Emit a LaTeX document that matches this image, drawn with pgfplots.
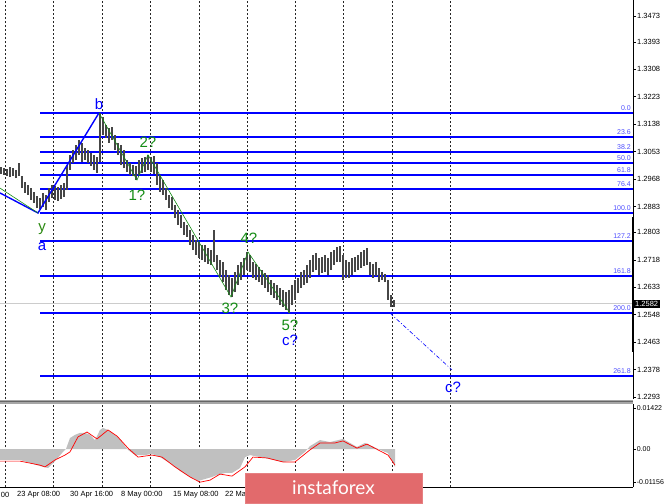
\documentclass[border=0pt]{standalone}
\usepackage{pgfplots}
\pgfplotsset{compat=1.18}
\usepackage{pgfplotstable}
\usepackage{fontspec}
\setmainfont{Liberation Sans}
\newfontfamily\logofont{Lato}
\definecolor{fibblue}{RGB}{0,0,255}
\definecolor{fibtext}{RGB}{80,80,255}
\definecolor{wavegreen}{RGB}{20,140,20}
\definecolor{barcol}{RGB}{70,70,70}
\definecolor{histgray}{RGB}{192,192,192}
\definecolor{logored}{RGB}{226,106,108}

\pgfplotstableread{
x lo hi
1 1.2984 1.3005
4 1.2981 1.3002
7 1.2978 1.2999
10 1.2974 1.3005
13 1.2978 1.3002
16 1.2971 1.2996
19 1.2978 1.3018
22 1.2940 1.2978
25 1.2925 1.2959
28 1.2919 1.2950
31 1.2903 1.2940
34 1.2894 1.2928
37 1.2878 1.2916
40 1.2875 1.2909
43 1.2882 1.2925
46 1.2872 1.2919
49 1.2897 1.2940
52 1.2909 1.2950
55 1.2903 1.2947
58 1.2900 1.2943
61 1.2906 1.2950
64 1.2912 1.2956
67 1.2934 1.3012
70 1.2996 1.3043
73 1.3018 1.3058
76 1.3027 1.3074
79 1.3043 1.3089
82 1.3021 1.3080
85 1.3027 1.3064
88 1.3018 1.3058
91 1.3008 1.3049
94 1.2996 1.3043
97 1.2987 1.3036
100 1.3021 1.3173
103 1.3105 1.3160
106 1.3095 1.3135
109 1.3080 1.3126
112 1.3089 1.3129
115 1.3058 1.3105
118 1.3043 1.3080
121 1.3012 1.3074
124 1.3002 1.3058
127 1.2990 1.3027
130 1.2981 1.3018
133 1.2978 1.3012
136 1.2965 1.3008
139 1.2981 1.3027
142 1.2987 1.3033
145 1.2990 1.3036
148 1.2996 1.3043
151 1.2990 1.3036
154 1.2984 1.3039
157 1.2950 1.3018
160 1.2928 1.2981
163 1.2919 1.2965
166 1.2903 1.2940
169 1.2878 1.2919
172 1.2872 1.2912
175 1.2847 1.2888
178 1.2826 1.2872
181 1.2817 1.2857
184 1.2795 1.2835
187 1.2789 1.2826
190 1.2764 1.2810
193 1.2748 1.2795
196 1.2733 1.2779
199 1.2724 1.2773
202 1.2717 1.2764
205 1.2711 1.2764
208 1.2705 1.2755
211 1.2702 1.2748
214 1.2711 1.2810
217 1.2686 1.2733
220 1.2665 1.2717
223 1.2649 1.2711
226 1.2624 1.2686
229 1.2609 1.2671
232 1.2603 1.2662
235 1.2618 1.2680
238 1.2640 1.2702
241 1.2655 1.2711
244 1.2671 1.2724
247 1.2686 1.2742
250 1.2680 1.2733
253 1.2662 1.2711
256 1.2655 1.2705
259 1.2649 1.2696
262 1.2640 1.2686
265 1.2631 1.2677
268 1.2618 1.2671
271 1.2609 1.2655
274 1.2600 1.2646
277 1.2594 1.2640
280 1.2578 1.2631
283 1.2572 1.2624
286 1.2563 1.2618
289 1.2553 1.2624
292 1.2578 1.2640
295 1.2594 1.2655
298 1.2615 1.2662
301 1.2631 1.2680
304 1.2640 1.2686
307 1.2646 1.2702
310 1.2662 1.2717
313 1.2680 1.2733
316 1.2686 1.2739
319 1.2671 1.2724
322 1.2677 1.2727
325 1.2680 1.2733
328 1.2671 1.2724
331 1.2686 1.2742
334 1.2702 1.2748
337 1.2711 1.2758
340 1.2711 1.2761
343 1.2655 1.2733
346 1.2662 1.2717
349 1.2662 1.2711
352 1.2671 1.2724
355 1.2680 1.2727
358 1.2686 1.2733
361 1.2693 1.2742
364 1.2699 1.2748
367 1.2702 1.2755
370 1.2671 1.2711
373 1.2662 1.2705
376 1.2668 1.2711
379 1.2649 1.2693
382 1.2655 1.2680
385 1.2649 1.2674
388 1.2594 1.2655
391 1.2572 1.2609
394 1.2572 1.2594
}\bars

\begin{document}
\begin{tikzpicture}[font=\fontsize{7.5}{8}\selectfont]
\useasboundingbox (0pt,0pt) rectangle (665pt,-504pt);
\fill[white] (0pt,0pt) rectangle (665pt,-504pt);
% ---------------- main price panel ----------------
\begin{axis}[
  at={(0pt,0pt)}, anchor=north west, scale only axis,
  width=633pt, height=399pt,
  xmin=0, xmax=633, ymin=1.22869, ymax=1.35226,
  clip=false,
  axis x line=none, axis y line*=right,
  y axis line style={-, line width=0.6pt},
  ytick={1.2293,1.2378,1.2463,1.2548,1.2633,1.2718,1.2803,1.2883,1.2968,1.3053,1.3138,1.3223,1.3308,1.3393,1.3473},
  yticklabels={1.2293,1.2378,1.2463,1.2548,1.2633,1.2718,1.2803,1.2883,1.2968,1.3053,1.3138,1.3223,1.3308,1.3393,1.3473},
  scaled y ticks=false,
  tick align=outside, major tick length=3pt,
  ytick style={black, line width=0.5pt},
  yticklabel style={font=\fontsize{7.5}{8}\selectfont, inner sep=1pt},
  /pgf/number format/assume math mode=true,
]
\pgfplotsinvokeforeach{5,53,102,150,199,247,295,343,392,450}{
  \draw[black!85, line width=0.5pt, dash pattern=on 2pt off 2pt] (axis cs:#1,1.22869) -- (axis cs:#1,1.35226);
}
% current price line
\addplot[black!20, line width=0.8pt, forget plot] coordinates {(0,1.2582) (633,1.2582)};
% Fibonacci levels
\addplot[fibblue, line width=1.8pt] coordinates {(40,1.3173) (633,1.3173)};
\addplot[fibblue, line width=1.8pt] coordinates {(40,1.3098) (633,1.3098)};
\addplot[fibblue, line width=1.8pt] coordinates {(40,1.3052) (633,1.3052)};
\addplot[fibblue, line width=1.8pt] coordinates {(40,1.3018) (633,1.3018)};
\addplot[fibblue, line width=1.8pt] coordinates {(40,1.2981) (633,1.2981)};
\addplot[fibblue, line width=1.8pt] coordinates {(40,1.2937) (633,1.2937)};
\addplot[fibblue, line width=1.8pt] coordinates {(40,1.2863) (633,1.2863)};
\addplot[fibblue, line width=1.8pt] coordinates {(40,1.2776) (633,1.2776)};
\addplot[fibblue, line width=1.8pt] coordinates {(40,1.2668) (633,1.2668)};
\addplot[fibblue, line width=1.8pt] coordinates {(40,1.2553) (633,1.2553)};
\addplot[fibblue, line width=1.8pt] coordinates {(40,1.2358) (633,1.2358)};
\foreach \lv/\tx in {1.3173/0.0,1.3098/23.6,1.3052/38.2,1.3018/50.0,1.2981/61.8,1.2937/76.4,1.2863/100.0,1.2776/127.2,1.2668/161.8,1.2553/200.0,1.2358/261.8}{
  \edef\tmp{\noexpand\node[anchor=base east, text=fibtext, font=\noexpand\fontsize{7}{8}\noexpand\selectfont, inner sep=0pt, yshift=2.3pt] at (axis cs:631,\lv) {\tx};}\tmp
}
% price bars (high-low ranges)
\addplot[draw=none, mark=none,
  error bars/.cd, y dir=plus, y explicit, error mark=none,
  error bar style={draw=barcol, solid, line width=1.15pt}]
  table[x=x, y=lo, y error expr=\thisrow{hi}-\thisrow{lo}] {\bars};
% waves
\addplot[fibblue, line width=1.4pt] coordinates {(0,1.2925) (38,1.2863) (99,1.3173)};
\addplot[wavegreen, line width=0.6pt] coordinates {(0,1.2940) (38,1.2863)};
\addplot[wavegreen, line width=0.6pt] coordinates {(99,1.3173) (137,1.2965) (148,1.3043) (231,1.2603) (248,1.2742) (290,1.2553)};
\addplot[fibblue, line width=0.6pt, dash pattern=on 4pt off 2pt on 1pt off 2pt] coordinates {(390,1.2553) (452,1.2377)};
% axis marker segment
\draw[black, line width=2.4pt] (axis cs:633,1.2851) -- (axis cs:633,1.2432);
% price tag
\node[fill=black, text=white, anchor=west, inner xsep=1.5pt, inner ysep=1.2pt, font=\fontsize{7.5}{8}\selectfont] at (axis cs:633.5,1.2582) {1.2582};
% wave labels
\node[anchor=base, text=fibblue, font=\fontsize{15}{16}\selectfont, inner sep=0pt] at (axis cs:99,1.3182) {b};
\node[anchor=base, text=wavegreen!80!olive, font=\fontsize{15}{16}\selectfont, inner sep=0pt] at (axis cs:42,1.2807) {y};
\node[anchor=base, text=fibblue, font=\fontsize{15}{16}\selectfont, inner sep=0pt] at (axis cs:42,1.2748) {a};
\node[anchor=base, text=wavegreen, font=\fontsize{15}{16}\selectfont, inner sep=0pt] at (axis cs:148,1.3067) {2?};
\node[anchor=base, text=wavegreen, font=\fontsize{15}{16}\selectfont, inner sep=0pt] at (axis cs:137,1.2903) {1?};
\node[anchor=base, text=wavegreen, font=\fontsize{15}{16}\selectfont, inner sep=0pt] at (axis cs:249,1.2770) {4?};
\node[anchor=base, text=wavegreen, font=\fontsize{15}{16}\selectfont, inner sep=0pt] at (axis cs:230,1.2553) {3?};
\node[anchor=base, text=wavegreen, font=\fontsize{15}{16}\selectfont, inner sep=0pt] at (axis cs:290,1.2500) {5?};
\node[anchor=base, text=fibblue, font=\fontsize{15}{16}\selectfont, inner sep=0pt] at (axis cs:290,1.2454) {c?};
\node[anchor=base, text=fibblue, font=\fontsize{15}{16}\selectfont, inner sep=0pt] at (axis cs:453,1.2306) {c?};
\end{axis}
% ---------------- indicator panel ----------------
\begin{axis}[
  at={(0pt,-404pt)}, anchor=north west, scale only axis,
  width=633pt, height=83pt,
  xmin=0, xmax=633, ymin=-0.01318, ymax=0.01561,
  clip=false,
  axis x line*=bottom, axis y line*=right,
  x axis line style={-, line width=0.6pt},
  y axis line style={-, line width=0.6pt},
  xtick=\empty,
  ytick={-0.01156,0,0.01422}, yticklabels={-0.01156,0.00,0.01422},
  scaled y ticks=false,
  tick align=outside, major tick length=3pt,
  ytick style={black, line width=0.5pt},
  yticklabel style={font=\fontsize{7}{8}\selectfont, inner sep=0.6pt},
  /pgf/number format/assume math mode=true,
]
\pgfplotsinvokeforeach{5,53,102,150,199,247,295,343,392,450}{
  \draw[black!85, line width=0.5pt, dash pattern=on 2pt off 2pt] (axis cs:#1,-0.01318) -- (axis cs:#1,0.01561);
}
\addplot[fill=histgray, draw=none] coordinates {
(0,-0.0038) (20,-0.0038) (40,-0.0059) (48,-0.0066) (55,-0.0042) (63,-0.0010) (66,0) (70,0.0038) (75,0.0049) (80,0.0056) (85,0.0056) (90,0.0049) (95,0.0031) (100,0.0066) (103,0.0073) (108,0.0066) (115,0.0049) (120,0.0035) (125,0.0010) (128,-0.0003) (135,-0.0021) (145,-0.0021) (152,-0.0017) (160,-0.0028) (170,-0.0049) (180,-0.0076) (190,-0.0097) (198,-0.0111) (205,-0.0104) (212,-0.0097) (217,-0.0090) (225,-0.0083) (232,-0.0083) (240,-0.0066) (245,-0.0028) (250,-0.0021) (260,-0.0028) (270,-0.0035) (283,-0.0045) (295,-0.0038) (305,-0.0010) (310,0.0010) (320,0.0031) (330,0.0024) (343,0.0035) (350,0.0021) (357,0.0007) (365,0.0021) (372,0.0010) (380,-0.0003) (388,-0.0014) (395,-0.0062)
} \closedcycle;
\addplot[red, line width=0.7pt] coordinates {
(0,-0.0042) (20,-0.0042) (40,-0.0056) (45,-0.0062) (55,-0.0038) (65,-0.0021) (70,-0.0010) (78,0.0042) (87,0.0059) (97,0.0035) (108,0.0066) (117,0.0045) (128,0.0003) (138,-0.0028) (152,-0.0021) (162,-0.0028) (175,-0.0062) (190,-0.0097) (200,-0.0115) (210,-0.0108) (220,-0.0087) (232,-0.0094) (245,-0.0062) (253,-0.0028) (267,-0.0031) (283,-0.0045) (295,-0.0045) (310,-0.0003) (320,0.0021) (335,0.0021) (343,0.0028) (357,0.0003) (367,0.0017) (378,-0.0003) (388,-0.0021) (395,-0.0056)
};
\end{axis}
% separator between panels
\fill[black!35] (0pt,-399.5pt) rectangle (633pt,-403.5pt);
\draw[black!60, line width=1.6pt] (0pt,-401.5pt) -- (633pt,-401.5pt);
% time labels
\node[anchor=east, inner sep=0pt] at (9.5pt,-494.5pt) {00};
\node[anchor=west, inner sep=0pt] at (17pt,-494.5pt) {23 Apr 08:00};
\node[anchor=west, inner sep=0pt] at (70pt,-494.5pt) {30 Apr 16:00};
\node[anchor=west, inner sep=0pt] at (121pt,-494.5pt) {8 May 00:00};
\node[anchor=west, inner sep=0pt] at (173pt,-494.5pt) {15 May 08:00};
\node[anchor=west, inner sep=0pt] at (225pt,-494.5pt) {22 May 16:00};
% logo
\fill[logored!85!white] (244.5pt,-472.5pt) rectangle (422.5pt,-504pt);
\fill[logored] (245.5pt,-473.5pt) rectangle (421.5pt,-503pt);
\node[text=white, font=\logofont\fontsize{19}{20}\selectfont, inner sep=0pt] at (333.5pt,-487.5pt) {instaforex};
\end{tikzpicture}
\end{document}
